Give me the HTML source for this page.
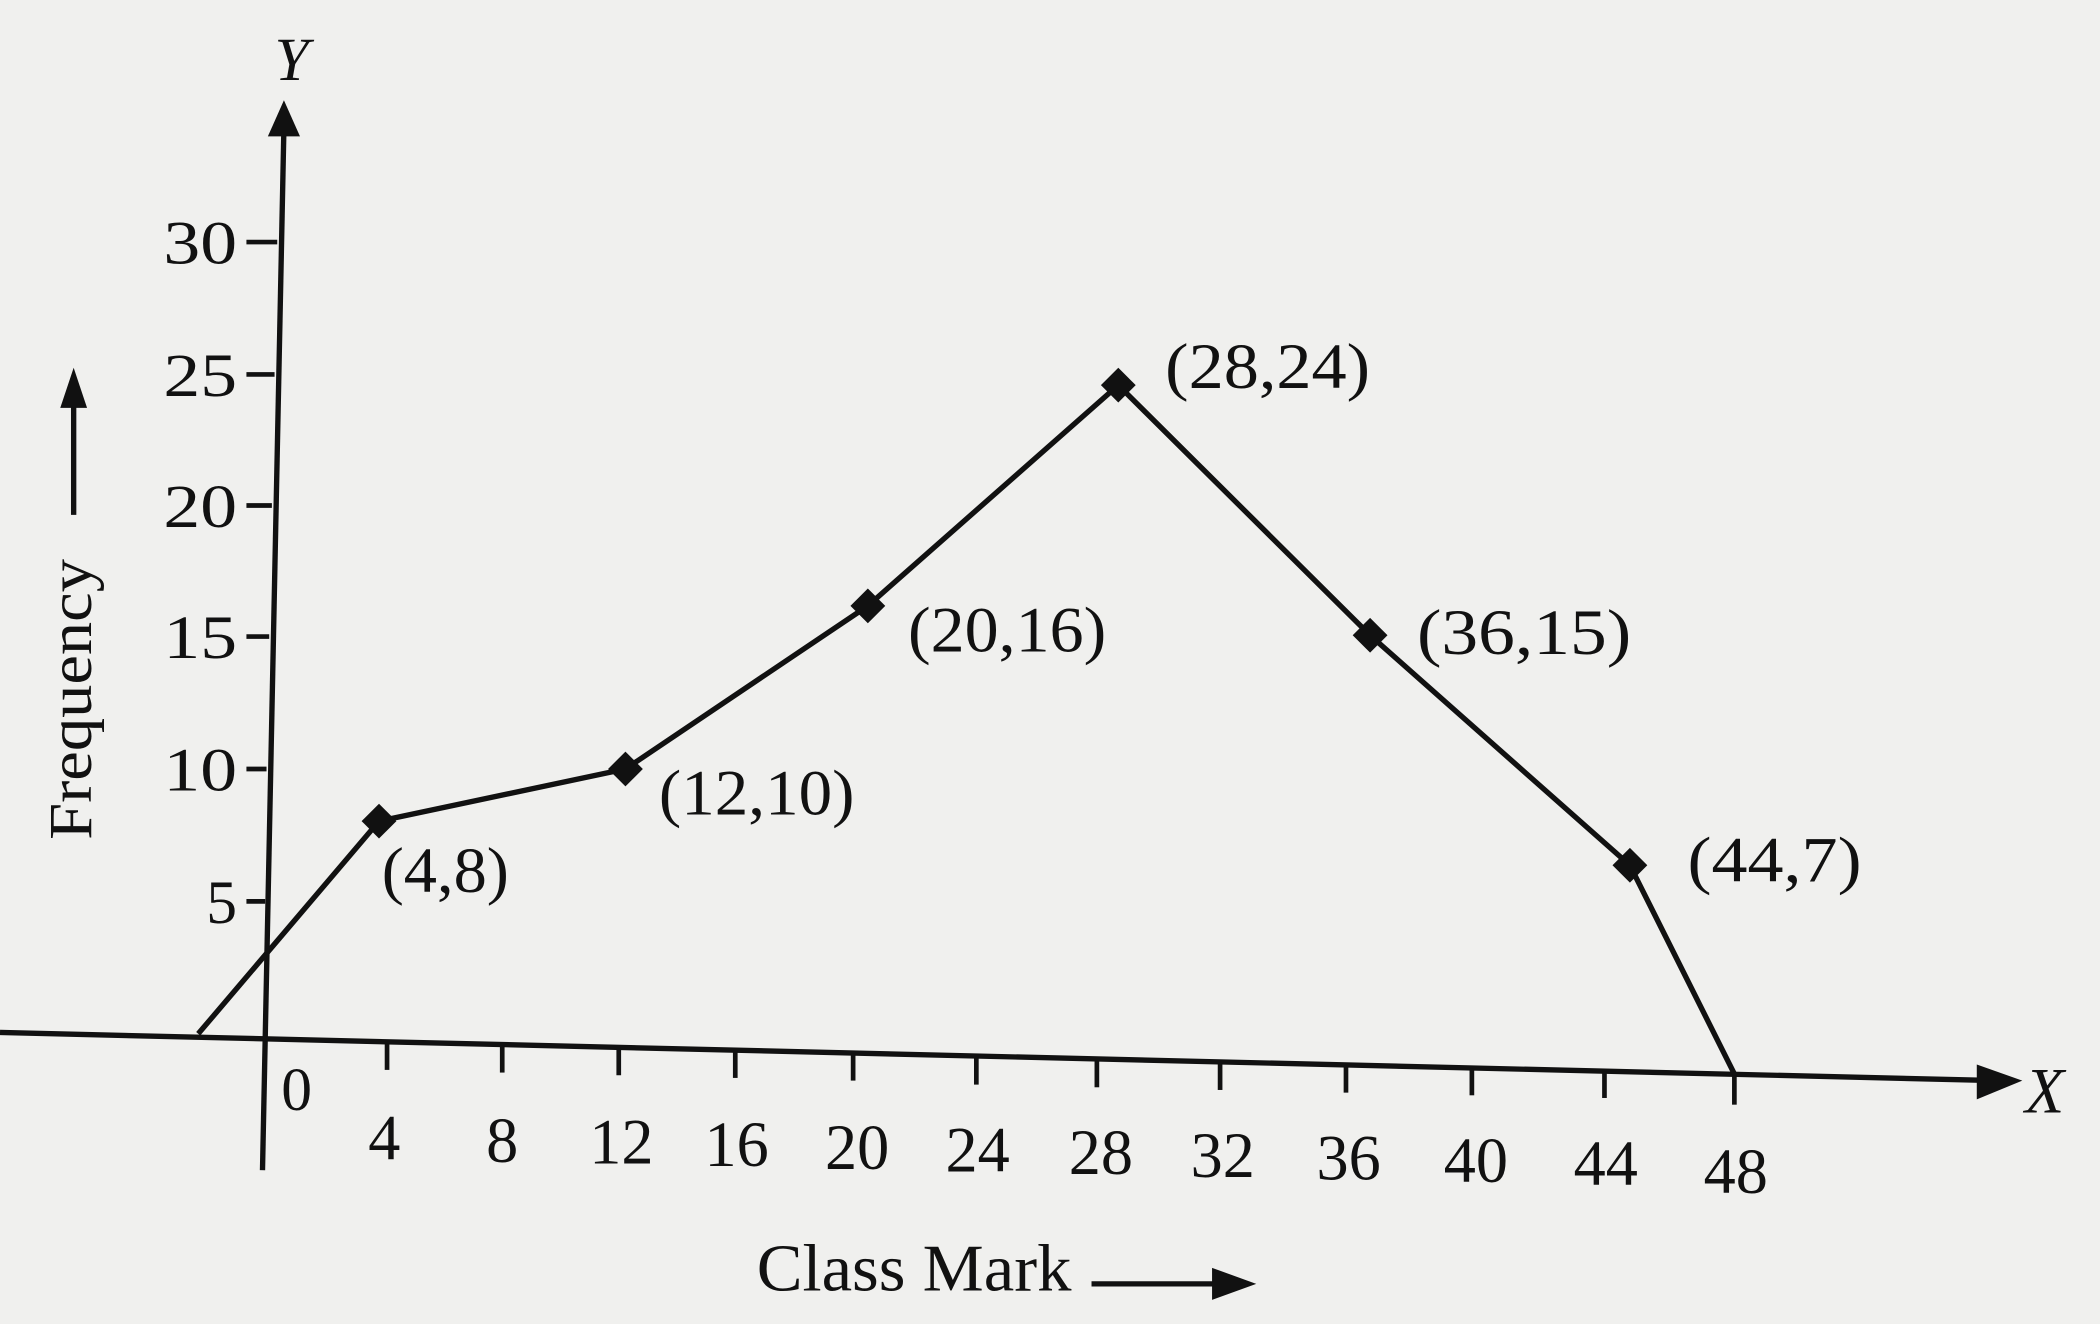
<!DOCTYPE html>
<html><head><style>html,body{margin:0;padding:0;background:#f0f0ee}svg{display:block}</style></head>
<body>
<svg width="2100" height="1324" viewBox="0 0 1568 990" preserveAspectRatio="none" xmlns="http://www.w3.org/2000/svg">
<rect width="1568" height="990" fill="#f0f0ee"/>
<g stroke="#111" stroke-width="4" fill="none">
<line x1="196" y1="875" x2="212" y2="95"/>
<line x1="0" y1="772" x2="1490" y2="808"/>
<g stroke-width="3.5">
<line x1="184" y1="181" x2="207" y2="181"/>
<line x1="184" y1="280" x2="205" y2="280"/>
<line x1="184" y1="378" x2="203" y2="378"/>
<line x1="184" y1="476" x2="201" y2="476"/>
<line x1="184" y1="575" x2="199" y2="575"/>
<line x1="184" y1="674" x2="198" y2="674"/>
<line x1="289" y1="780" x2="289" y2="800"/>
<line x1="375" y1="782" x2="375" y2="802"/>
<line x1="462" y1="784" x2="462" y2="804"/>
<line x1="549" y1="786" x2="549" y2="806"/>
<line x1="637" y1="788" x2="637" y2="808"/>
<line x1="729" y1="791" x2="729" y2="811"/>
<line x1="819" y1="793" x2="819" y2="813"/>
<line x1="911" y1="795" x2="911" y2="815"/>
<line x1="1005" y1="797" x2="1005" y2="817"/>
<line x1="1099" y1="799" x2="1099" y2="819"/>
<line x1="1198" y1="801" x2="1198" y2="821"/>
<line x1="1295" y1="804" x2="1295" y2="826"/>
</g>
<polyline points="148,773 283,614 467,575 648,453 835,288 1023,475 1217,647 1295,803"/>
<line x1="55" y1="385" x2="55" y2="300"/>
<line x1="815" y1="960" x2="910" y2="960"/>
</g>
<g fill="#111">
<polygon points="212,75 200,102 224,102"/>
<polygon points="1510,808 1476,796 1476,822"/>
<polygon points="55,275 45,305 65,305"/>
<polygon points="938,960 905,948 905,972"/>
<g>
<polygon points="283,601 296,614 283,627 270,614"/>
<polygon points="467,562 480,575 467,588 454,575"/>
<polygon points="648,440 661,453 648,466 635,453"/>
<polygon points="835,275 848,288 835,301 822,288"/>
<polygon points="1023,462 1036,475 1023,488 1010,475"/>
<polygon points="1217,634 1230,647 1217,660 1204,647"/>
</g>
</g>
<g font-family="Liberation Serif, serif" fill="#111" font-size="48">
<g text-anchor="end" font-size="46">
<text x="177" y="197" textLength="55" lengthAdjust="spacingAndGlyphs">30</text><text x="177" y="296" textLength="55" lengthAdjust="spacingAndGlyphs">25</text><text x="177" y="394" textLength="55" lengthAdjust="spacingAndGlyphs">20</text>
<text x="177" y="492" textLength="55" lengthAdjust="spacingAndGlyphs">15</text><text x="177" y="591" textLength="55" lengthAdjust="spacingAndGlyphs">10</text><text x="177" y="690">5</text>
</g>
<text x="210" y="830" font-size="46">0</text>
<g text-anchor="middle" font-size="48">
<text x="287" y="867">4</text><text x="375" y="869">8</text><text x="464" y="870">12</text>
<text x="550" y="872">16</text><text x="640" y="874">20</text><text x="730" y="876">24</text>
<text x="822" y="878">28</text><text x="913" y="880">32</text><text x="1007" y="882">36</text>
<text x="1102" y="884">40</text><text x="1199" y="886">44</text><text x="1296" y="892">48</text>
</g>
<text x="285" y="667" textLength="95" lengthAdjust="spacingAndGlyphs">(4,8)</text>
<text x="492" y="609" textLength="146" lengthAdjust="spacingAndGlyphs">(12,10)</text>
<text x="678" y="487" textLength="148" lengthAdjust="spacingAndGlyphs">(20,16)</text>
<text x="870" y="290" textLength="153" lengthAdjust="spacingAndGlyphs">(28,24)</text>
<text x="1058" y="489" textLength="160" lengthAdjust="spacingAndGlyphs">(36,15)</text>
<text x="1260" y="659" textLength="130" lengthAdjust="spacingAndGlyphs">(44,7)</text>
<text x="205" y="60" font-style="italic" font-size="46">Y</text>
<text x="1512" y="832" font-style="italic" font-size="48">X</text>
<text x="565" y="965" font-size="50" textLength="235" lengthAdjust="spacingAndGlyphs">Class Mark</text>
<text transform="translate(68,628) rotate(-90)" font-size="46" textLength="210" lengthAdjust="spacingAndGlyphs">Frequency</text>
</g>
</svg>
</body></html>
